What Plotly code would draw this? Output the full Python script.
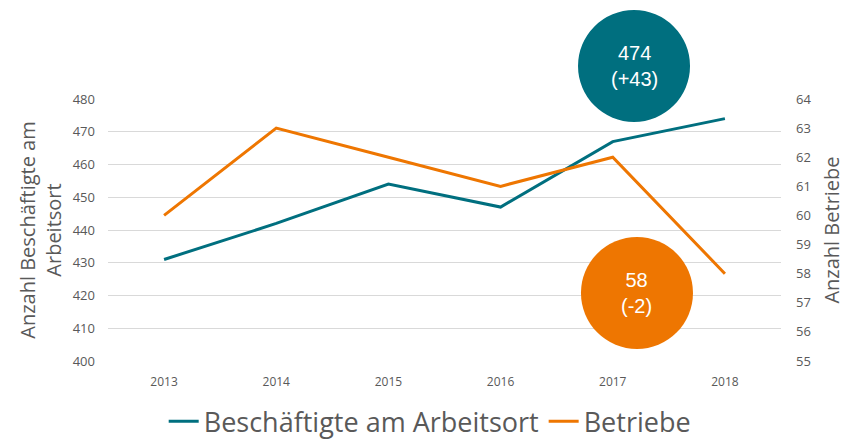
import plotly.graph_objects as go

years = ["2013", "2014", "2015", "2016", "2017", "2018"]
beschaeftigte = [431, 442, 454, 447, 467, 474]
betriebe = [60, 63, 62, 61, 62, 58]
left_ticks = [400, 410, 420, 430, 440, 450, 460, 470, 480]
right_ticks = [55, 56, 57, 58, 59, 60, 61, 62, 63, 64]

teal = "#006F7F"
orange = "#EE7601"
gray = "#595959"
font = "Open Sans"

fig = go.Figure()
fig.add_trace(go.Scatter(x=years, y=beschaeftigte, mode="lines", name="Beschäftigte am Arbeitsort",
                         line=dict(color=teal, width=3)))
fig.add_trace(go.Scatter(x=years, y=betriebe, mode="lines", name="Betriebe", yaxis="y2",
                         line=dict(color=orange, width=3)))

fig.update_layout(
    width=847, height=442,
    margin=dict(l=108, r=66, t=99, b=81, autoexpand=False),
    paper_bgcolor="white", plot_bgcolor="white",
    font=dict(family=font, color=gray),
    xaxis=dict(type="category", showgrid=False, showline=False, ticks="",
               tickfont=dict(size=12, color=gray), range=[-0.5, 5.5], ticklabelstandoff=12),
    yaxis=dict(range=[400, 480], tickvals=left_ticks, showgrid=True, gridcolor="#D9D9D9",
               gridwidth=1, zeroline=False, tickfont=dict(size=13, color=gray), ticklabelstandoff=12,
               title=dict(text="Anzahl Beschäftigte am<br>Arbeitsort", font=dict(size=20, color=gray),
                          standoff=5)),
    yaxis2=dict(range=[55, 64], tickvals=right_ticks, overlaying="y", side="right",
                showgrid=False, zeroline=False, tickfont=dict(size=13, color=gray), ticklabelstandoff=14,
                title=dict(text="Anzahl Betriebe", font=dict(size=20, color=gray), standoff=14)),
    legend=dict(orientation="h", x=0.478, xanchor="center", y=-0.232, yref="paper",
                yanchor="middle", font=dict(size=27, color=gray), tracegroupgap=0),
    showlegend=True,
)

bubbles = [
    dict(x=0.7816, y=1.126, color=teal, text="474<br>(+43)"),
    dict(x=0.786, y=0.2595, color=orange, text="58<br>(-2)"),
]
for b in bubbles:
    fig.add_shape(type="circle", xref="paper", yref="paper", xsizemode="pixel", ysizemode="pixel",
                  xanchor=b["x"], yanchor=b["y"], x0=-56, x1=56, y0=-56, y1=56,
                  fillcolor=b["color"], line=dict(width=0), layer="above")
    fig.add_annotation(x=b["x"], y=b["y"], xref="paper", yref="paper", text=b["text"], showarrow=False,
                       xanchor="center", yanchor="middle",
                       font=dict(family="Liberation Sans", size=20, color="white"), align="center")

fig.write_html("out.html", config={"displayModeBar": False},
               post_script="document.body.style.margin='0';")
